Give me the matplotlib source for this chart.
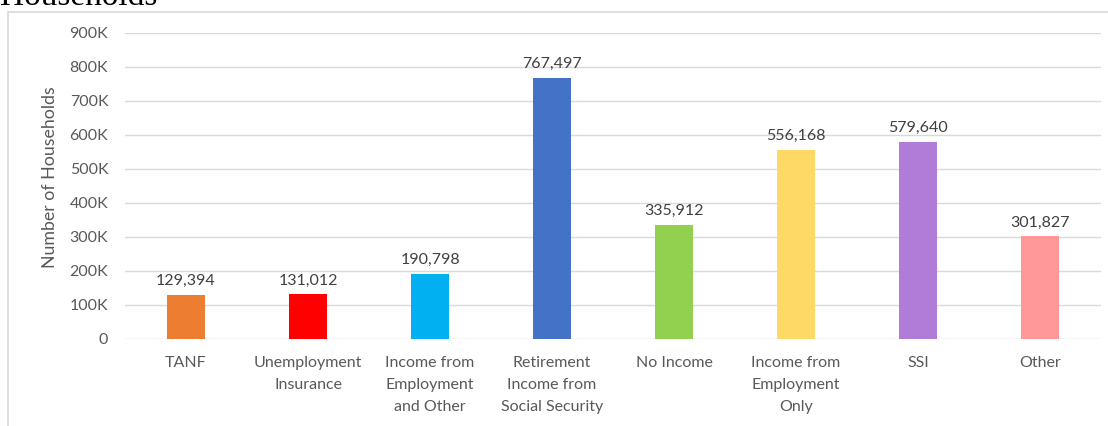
import matplotlib.pyplot as plt
from matplotlib.patches import Rectangle
from matplotlib.ticker import FuncFormatter

# Households by income source
categories = ['TANF', 'Unemployment\nInsurance', 'Income from\nEmployment\nand Other',
              'Retirement\nIncome from\nSocial Security', 'No Income',
              'Income from\nEmployment\nOnly', 'SSI', 'Other']
households = [129394, 131012, 190798, 767497, 335912, 556168, 579640, 301827]
colors = ['#ED7D31', '#FF0000', '#00B0F0', '#4472C4', '#92D050', '#FFD966', '#B07CD8', '#FF9999']

plt.rcParams['font.family'] = ['Lato', 'DejaVu Sans']
text_color = '#595959'
fs = 11.5

fig = plt.figure(figsize=(11.08, 4.26), dpi=100)
W, H = 1108, 426

# chart frame
fig.patches.append(Rectangle((8 / W, -0.1), 1.2, 1 - 12 / H + 0.1, transform=fig.transFigure,
                             fill=False, edgecolor='#d9d9d9', linewidth=1.2))

# heading above the frame, mostly off the top edge
fig.text(0, 1 - 5 / H, 'Households', family='Liberation Serif', fontsize=24,
         ha='left', va='baseline', color='black')

ax = fig.add_axes([125 / W, 87 / H, 976 / W, 306 / H])
x = range(len(categories))
bars = ax.bar(x, households, width=0.31, color=colors, zorder=3)

for bar, v in zip(bars, households):
    ax.annotate(f'{v:,}', (bar.get_x() + bar.get_width() / 2, v),
                xytext=(0, 5), textcoords='offset points',
                ha='center', va='bottom', fontsize=fs, color='#404040')

ax.set_xlim(-0.5, len(categories) - 0.5)
ax.set_ylim(0, 900000)
ax.set_yticks(range(0, 900001, 100000))
ax.yaxis.set_major_formatter(FuncFormatter(lambda v, p: '0' if v == 0 else f'{int(v / 1000)}K'))
ax.set_xticks(list(x))
ax.set_xticklabels(categories, linespacing=1.75)

ax.grid(axis='y', color='#d9d9d9', linewidth=1, zorder=0)
for s in ax.spines.values():
    s.set_visible(False)
ax.tick_params(axis='both', length=0, labelsize=fs, labelcolor=text_color)
ax.tick_params(axis='y', pad=12)
ax.tick_params(axis='x', pad=12)
ax.set_ylabel('Number of Households', fontsize=12.8, color=text_color)
ax.yaxis.set_label_coords(-67 / 976, 0.53)

fig.savefig('out.png', dpi=100)
